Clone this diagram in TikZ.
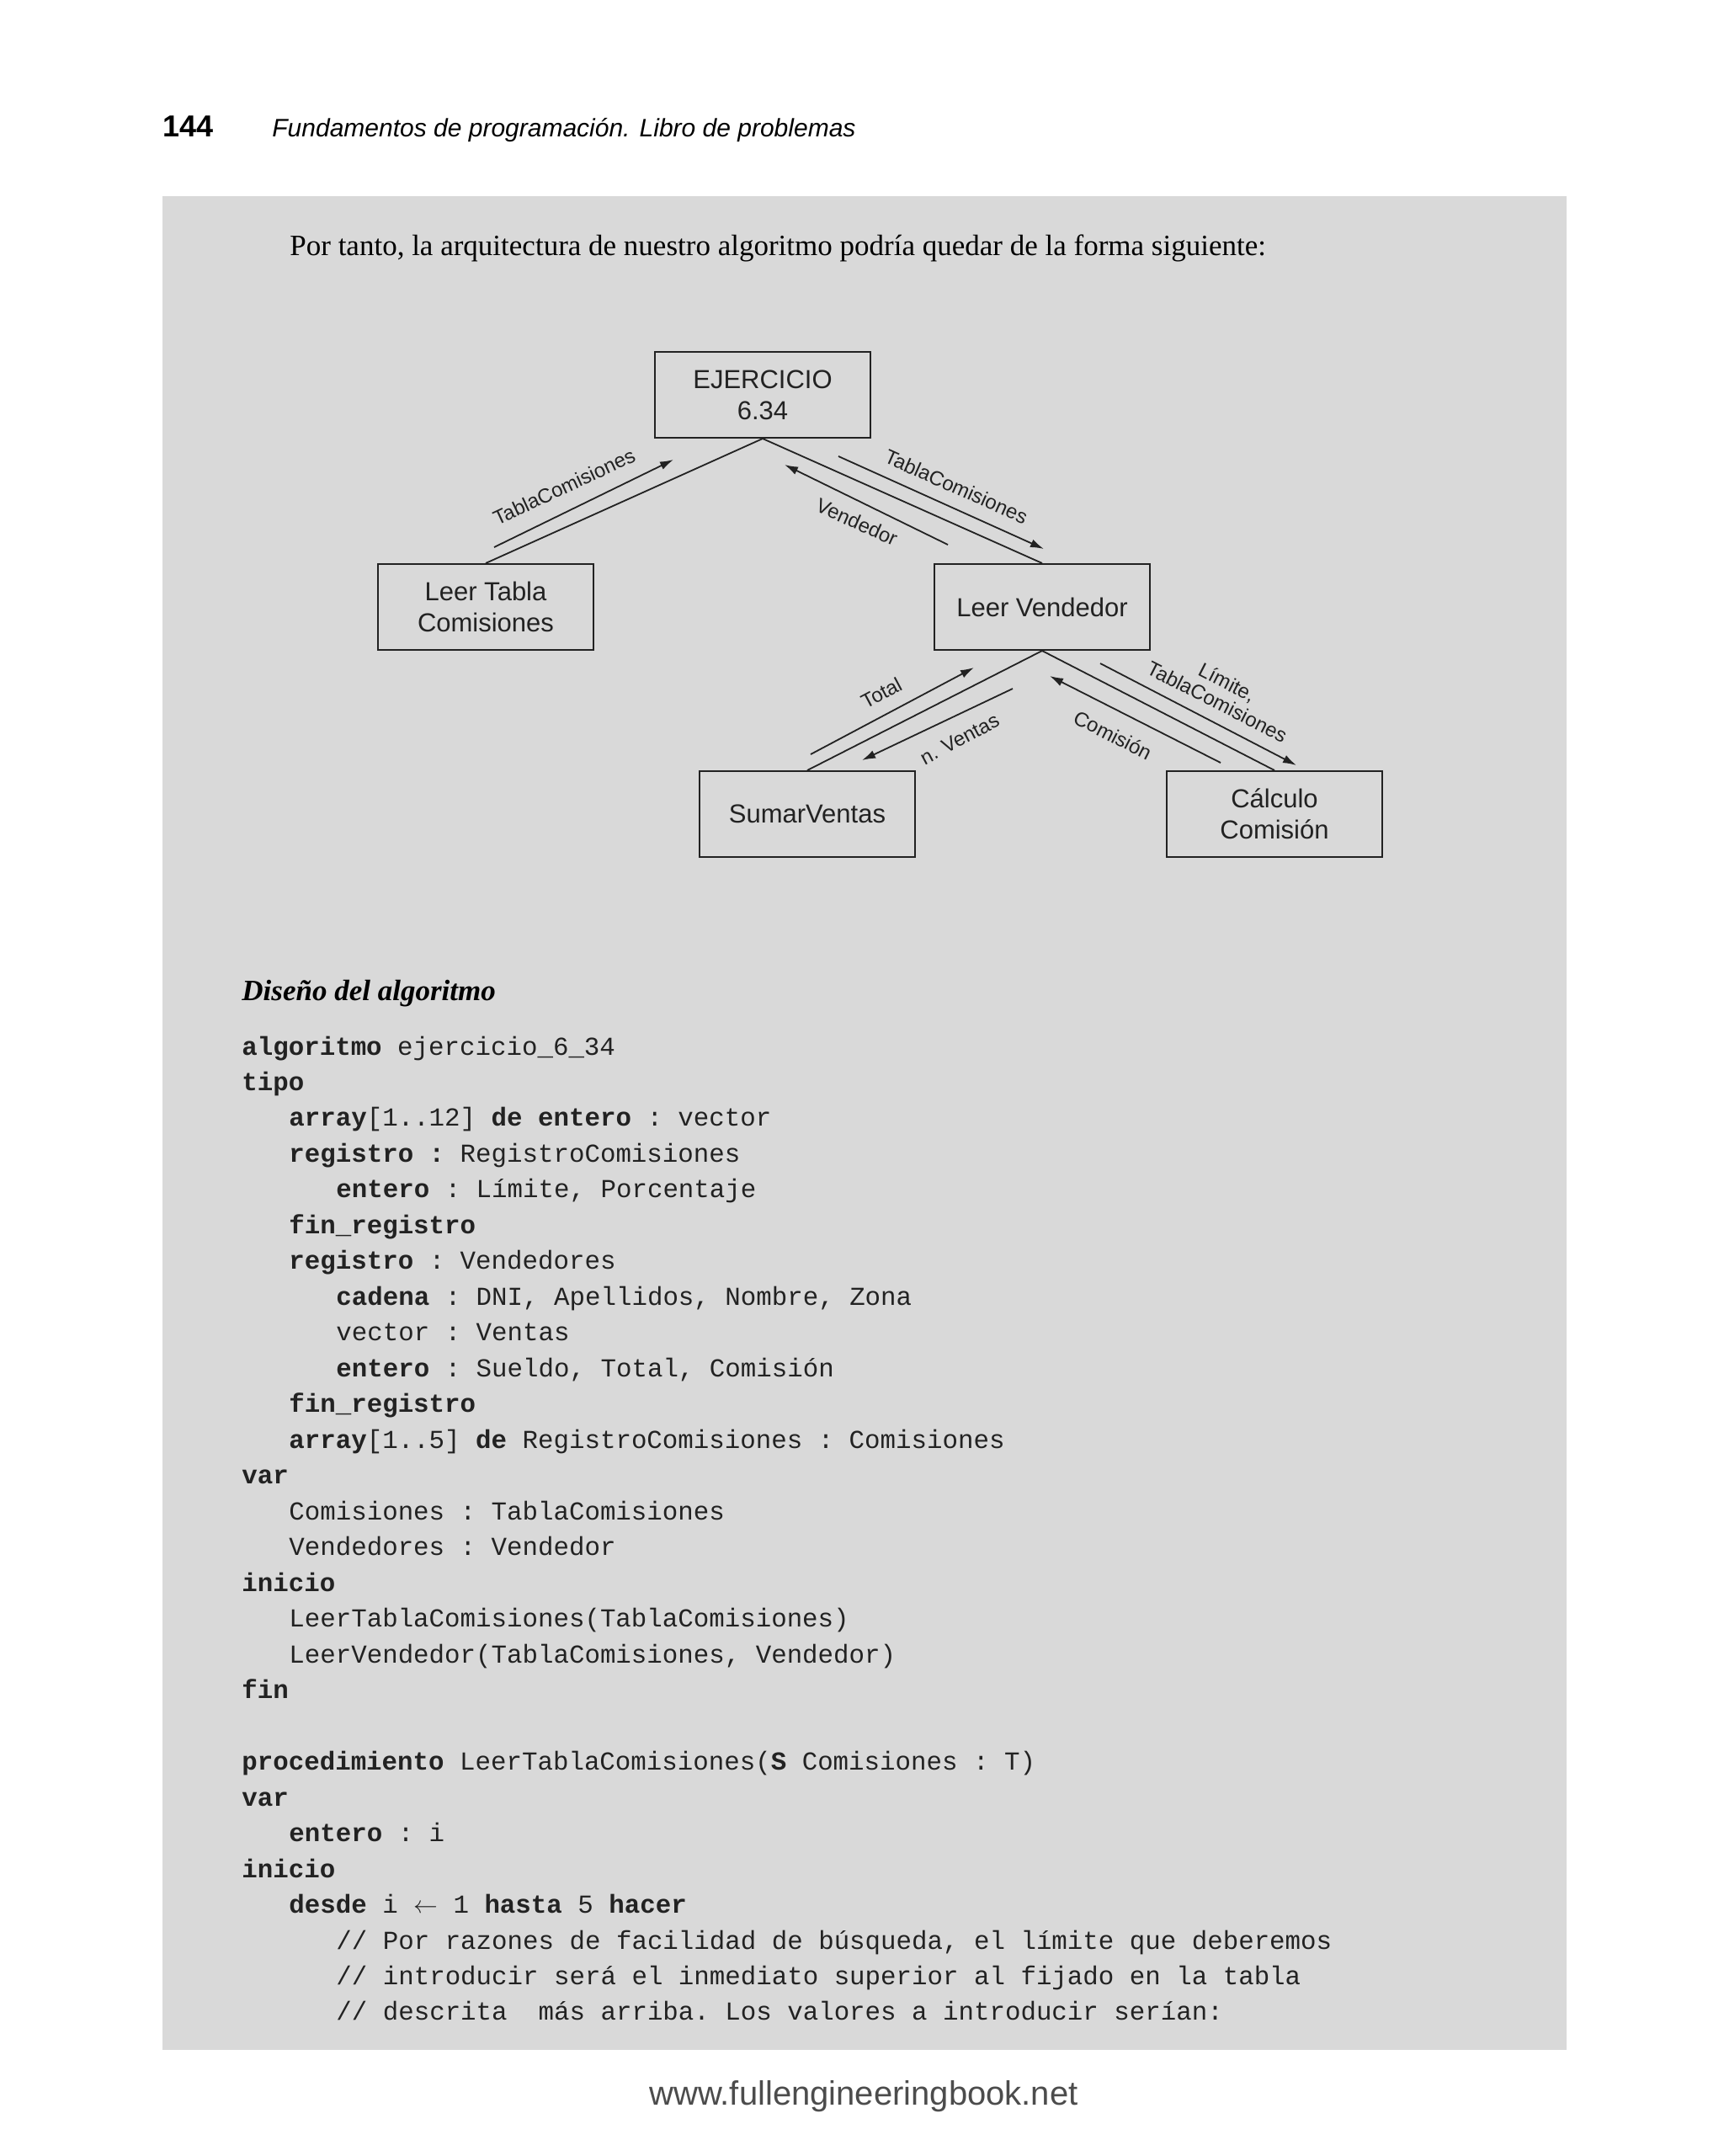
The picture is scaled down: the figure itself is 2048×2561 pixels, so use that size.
\documentclass[tikz,border=0pt]{standalone}
\usepackage{fontspec}
\setmainfont{Liberation Serif}
\setsansfont{Liberation Sans}
\setmonofont{Liberation Mono}
\usetikzlibrary{arrows.meta}
\definecolor{panel}{HTML}{D9D9D9}
\definecolor{ink}{HTML}{222222}
\tikzset{
 box/.style={draw=ink,line width=1pt,minimum width=128pt,minimum height=51pt,font=\sffamily\fontsize{15.5}{18.5}\selectfont,align=center,text=ink},
 conn/.style={draw=ink,line width=0.9pt},
 arr/.style={draw=ink,line width=0.9pt,-{Latex[length=8pt,width=5pt]}},
 lbl/.style={font=\sffamily\fontsize{12}{13}\selectfont,text=ink,align=center},
 code/.style={anchor=base west,font=\ttfamily\fontsize{15.4}{17}\selectfont,text=ink,inner sep=0pt},
}
\begin{document}
\begin{tikzpicture}[x=0.5pt,y=-0.5pt]
\useasboundingbox (0,0) rectangle (2048,2561);
\fill[white] (0,0) rectangle (2048,2561);
\fill[panel] (193,233) rectangle (1861,2435);
\node[anchor=base west,inner sep=0pt,font=\sffamily\bfseries\fontsize{18}{20}\selectfont] (pg) at (193,162) {144};
\node[anchor=base west,inner sep=0pt,font=\sffamily\itshape\fontsize{15}{18}\selectfont] (hd) at (323,162) {Fundamentos de programación. Libro de problemas};
\node[anchor=base west,inner sep=0pt,font=\fontsize{17.5}{20}\selectfont] (intro) at (344,303) {Por tanto, la arquitectura de nuestro algoritmo podría quedar de la forma siguiente:};
% boxes
\node[box] (ej) at (906,469) {EJERCICIO\\6.34};
\node[box] (lt) at (577,721) {Leer Tabla\\Comisiones};
\node[box] (lv) at (1238,721) {Leer Vendedor};
\node[box] (sv) at (959,967) {SumarVentas};
\node[box] (cc) at (1514,967) {Cálculo\\Comisión};
\draw[conn] (ej.south) -- (lt.north);
\draw[conn] (ej.south) -- (lv.north);
\draw[conn] (lv.south) -- (sv.north);
\draw[conn] (lv.south) -- (cc.north);
% arrows
\coordinate (a1) at (587,650); \coordinate (b1) at (800,546);
\coordinate (a2) at (996,542); \coordinate (b2) at (1240,652);
\coordinate (a3) at (1126,647); \coordinate (b3) at (932,552);
\coordinate (a4) at (963,896); \coordinate (b4) at (1157,793);
\coordinate (a5) at (1203,818); \coordinate (b5) at (1024,903);
\coordinate (a6) at (1450,906); \coordinate (b6) at (1247,803);
\coordinate (a7) at (1307,788); \coordinate (b7) at (1540,909);
\draw[arr] (a1) -- (b1);
\draw[arr] (a2) -- (b2);
\draw[arr] (a3) -- (b3);
\draw[arr] (a4) -- (b4);
\draw[arr] (a5) -- (b5);
\draw[arr] (a6) -- (b6);
\draw[arr] (a7) -- (b7);
\node[lbl,rotate=25] (l1) at (670,578) {TablaComisiones};
\node[lbl,rotate=-24] (l2) at (1136,578) {TablaComisiones};
\node[lbl,rotate=-24] (l3) at (1018,620) {Vendedor};
\node[lbl,rotate=28] (l4) at (1047,823) {Total};
\node[lbl,rotate=28] (l5) at (1140,878) {n. Ventas};
\node[lbl,rotate=-27] (l6) at (1322,873) {Comisión};
\node[lbl,rotate=-27] (l7) at (1452,822) {Límite,\\TablaComisiones};
% code
\node[anchor=base west,inner sep=0pt,font=\bfseries\itshape\fontsize{17.5}{20}\selectfont] (dis) at (287,1188) {Diseño del algoritmo};
\def\cl#1#2#3{\node[code] at ({287+56*#2},{1253+42.48*#1}) {#3};}
\cl{0}{0}{\textbf{algoritmo} ejercicio\_6\_34}
\cl{1}{0}{\textbf{tipo}}
\cl{2}{1}{\textbf{array}[1..12] \textbf{de entero} : vector}
\cl{3}{1}{\textbf{registro :} RegistroComisiones}
\cl{4}{2}{\textbf{entero} : Límite, Porcentaje}
\cl{5}{1}{\textbf{fin\_registro}}
\cl{6}{1}{\textbf{registro} : Vendedores}
\cl{7}{2}{\textbf{cadena} : DNI, Apellidos, Nombre, Zona}
\cl{8}{2}{vector : Ventas}
\cl{9}{2}{\textbf{entero} : Sueldo, Total, Comisión}
\cl{10}{1}{\textbf{fin\_registro}}
\cl{11}{1}{\textbf{array}[1..5] \textbf{de} RegistroComisiones : Comisiones}
\cl{12}{0}{\textbf{var}}
\cl{13}{1}{Comisiones : TablaComisiones}
\cl{14}{1}{Vendedores : Vendedor}
\cl{15}{0}{\textbf{inicio}}
\cl{16}{1}{LeerTablaComisiones(TablaComisiones)}
\cl{17}{1}{LeerVendedor(TablaComisiones, Vendedor)}
\cl{18}{0}{\textbf{fin}}
\cl{20}{0}{\textbf{procedimiento} LeerTablaComisiones(\textbf{S} Comisiones : T)}
\cl{21}{0}{\textbf{var}}
\cl{22}{1}{\textbf{entero} : i}
\cl{23}{0}{\textbf{inicio}}
\cl{24}{1}{\textbf{desde} i $\leftarrow$ 1 \textbf{hasta} 5 \textbf{hacer}}
\cl{25}{2}{// Por razones de facilidad de búsqueda, el límite que deberemos}
\cl{26}{2}{// introducir será el inmediato superior al fijado en la tabla}
\cl{27}{2}{// descrita\ \ más arriba. Los valores a introducir serían:}
\node[font=\sffamily\fontsize{20}{22}\selectfont,text=black!70] (ft) at (1026,2490) {www.fullengineeringbook.net};
\end{tikzpicture}
\end{document}
